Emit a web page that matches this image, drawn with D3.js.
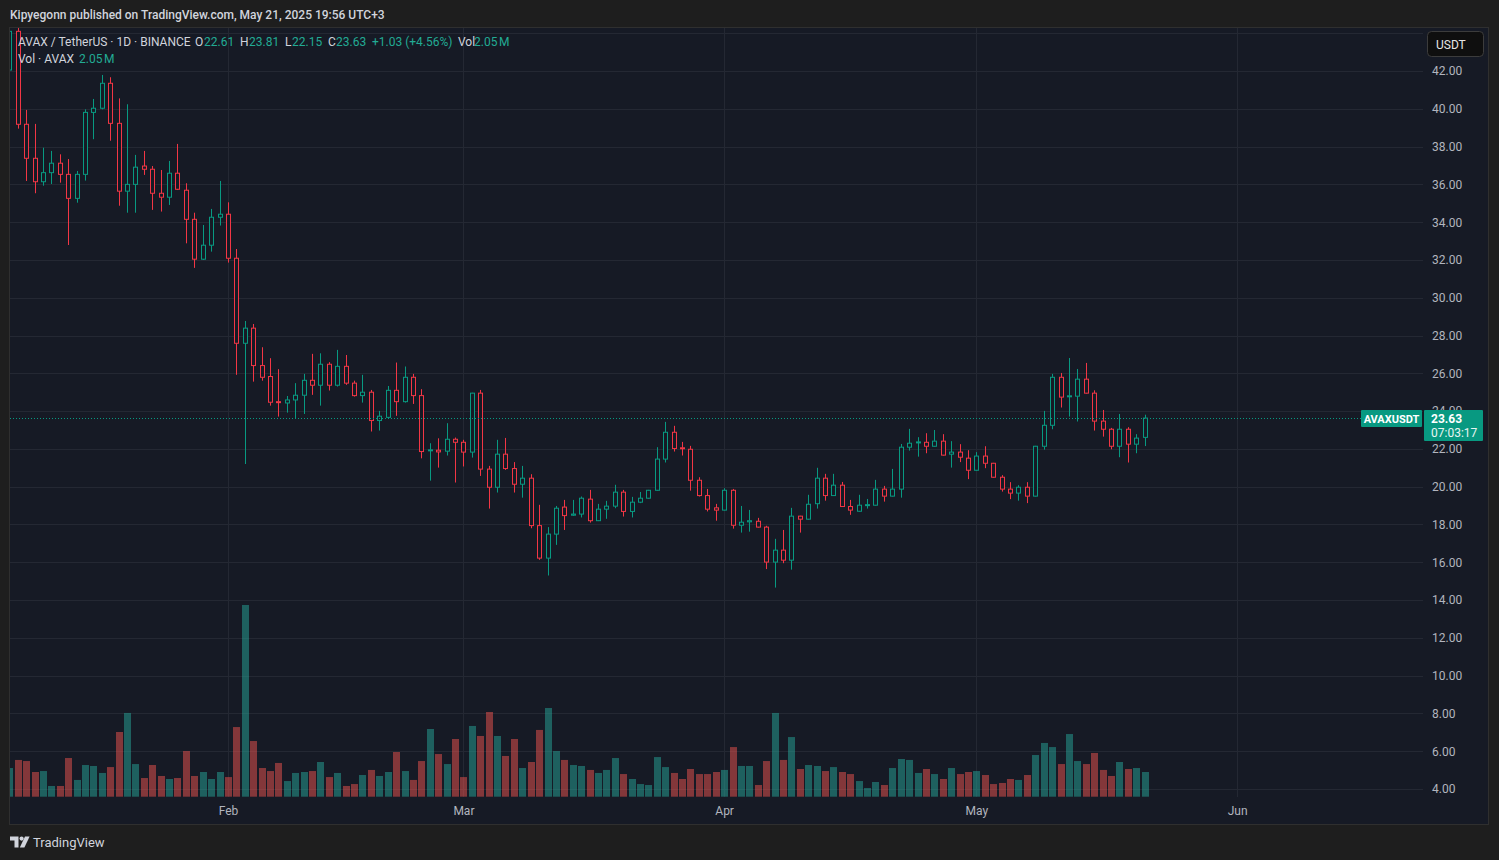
<!DOCTYPE html>
<html>
<head>
<meta charset="utf-8">
<script src="https://cdn.jsdelivr.net/npm/d3@7"></script>
<style>
	html, body { margin: 0; padding: 0; background: #1e1e1e; }
	svg { display: block; font-family: Roboto, "Noto Sans", sans-serif; }
</style>
</head>
<body>
<svg id="chart" width="1499" height="860"></svg>
<script>
(function() {
	"use strict";

	// daily candles, AVAX / USDT
	var days = [
		"2025-01-06","2025-01-07","2025-01-08","2025-01-09","2025-01-10","2025-01-11","2025-01-12","2025-01-13",
		"2025-01-14","2025-01-15","2025-01-16","2025-01-17","2025-01-18","2025-01-19","2025-01-20","2025-01-21",
		"2025-01-22","2025-01-23","2025-01-24","2025-01-25","2025-01-26","2025-01-27","2025-01-28","2025-01-29",
		"2025-01-30","2025-01-31","2025-02-01","2025-02-02","2025-02-03","2025-02-04","2025-02-05","2025-02-06",
		"2025-02-07","2025-02-08","2025-02-09","2025-02-10","2025-02-11","2025-02-12","2025-02-13","2025-02-14",
		"2025-02-15","2025-02-16","2025-02-17","2025-02-18","2025-02-19","2025-02-20","2025-02-21","2025-02-22",
		"2025-02-23","2025-02-24","2025-02-25","2025-02-26","2025-02-27","2025-02-28","2025-03-01","2025-03-02",
		"2025-03-03","2025-03-04","2025-03-05","2025-03-06","2025-03-07","2025-03-08","2025-03-09","2025-03-10",
		"2025-03-11","2025-03-12","2025-03-13","2025-03-14","2025-03-15","2025-03-16","2025-03-17","2025-03-18",
		"2025-03-19","2025-03-20","2025-03-21","2025-03-22","2025-03-23","2025-03-24","2025-03-25","2025-03-26",
		"2025-03-27","2025-03-28","2025-03-29","2025-03-30","2025-03-31","2025-04-01","2025-04-02","2025-04-03",
		"2025-04-04","2025-04-05","2025-04-06","2025-04-07","2025-04-08","2025-04-09","2025-04-10","2025-04-11",
		"2025-04-12","2025-04-13","2025-04-14","2025-04-15","2025-04-16","2025-04-17","2025-04-18","2025-04-19",
		"2025-04-20","2025-04-21","2025-04-22","2025-04-23","2025-04-24","2025-04-25","2025-04-26","2025-04-27",
		"2025-04-28","2025-04-29","2025-04-30","2025-05-01","2025-05-02","2025-05-03","2025-05-04","2025-05-05",
		"2025-05-06","2025-05-07","2025-05-08","2025-05-09","2025-05-10","2025-05-11","2025-05-12","2025-05-13",
		"2025-05-14","2025-05-15","2025-05-16","2025-05-17","2025-05-18","2025-05-19","2025-05-20","2025-05-21"
	];

	var opens = [
		42.05,44.10,39.18,37.38,36.14,36.62,37.12,36.53,35.26,36.53,39.81,40.03,41.35,39.23,35.64,36.00,
		36.97,36.80,35.53,35.32,36.59,35.69,34.15,32.04,32.78,34.26,34.42,32.09,27.59,28.39,26.41,25.83,
		24.50,24.43,24.59,24.84,25.63,25.37,26.48,25.37,26.37,25.48,24.82,25.00,23.50,23.67,25.10,24.50,
		25.79,24.82,21.90,21.93,21.88,22.51,22.35,21.83,24.95,20.93,19.97,21.72,20.96,20.13,20.45,17.94,
		16.22,17.49,18.92,18.49,18.55,19.34,18.20,18.81,18.97,19.71,18.69,19.18,19.39,19.81,21.46,22.88,
		22.06,21.98,20.34,19.53,18.88,18.76,19.81,17.96,18.14,18.17,17.86,16.01,16.64,16.11,18.44,18.28,
		19.10,20.45,19.53,20.08,18.95,18.70,19.00,19.02,19.87,19.50,19.87,22.09,22.33,22.35,22.14,22.41,
		21.72,21.83,21.51,20.87,21.62,21.24,20.50,19.87,19.66,19.97,19.50,22.14,23.25,25.79,24.77,24.79,
		25.69,24.95,23.47,23.04,22.14,23.04,22.25,22.61
	];

	var highs = [
		44.60,44.60,39.94,39.20,37.94,37.77,37.59,37.34,36.71,39.97,40.52,41.79,41.67,40.55,40.24,37.56,
		37.77,36.97,36.76,37.24,38.14,36.06,34.50,33.85,34.70,36.18,35.05,32.58,28.77,28.61,27.38,26.80,
		26.22,24.80,25.48,25.97,27.03,27.06,26.59,27.24,26.97,25.61,25.92,25.12,24.01,25.33,26.57,26.36,
		25.97,25.16,22.30,22.56,23.36,22.60,22.48,24.97,25.12,21.10,22.48,22.58,21.30,21.10,20.66,19.04,
		17.86,18.98,19.30,19.30,19.48,19.83,19.09,19.25,20.10,19.83,19.46,19.72,19.83,22.09,23.43,23.22,
		22.37,22.16,20.50,19.88,19.09,19.92,19.88,18.98,18.77,18.35,17.93,17.24,17.71,18.88,18.46,19.57,
		21.00,20.68,20.68,20.25,19.30,19.57,19.35,20.36,20.04,20.94,22.26,23.06,22.62,22.83,23.00,22.78,
		22.41,22.25,21.93,21.83,22.14,21.26,20.61,20.24,20.08,20.24,22.16,24.01,25.97,26.02,26.81,26.23,
		26.55,25.10,24.06,23.11,23.85,23.15,22.78,23.81
	];

	var lows = [
		41.50,38.95,36.18,35.53,35.93,36.02,36.09,32.79,35.03,36.20,38.39,39.97,38.31,34.87,34.50,34.50,
		36.50,34.65,34.56,34.91,35.70,32.88,31.58,32.00,32.44,33.82,31.86,25.92,21.20,25.56,25.61,24.29,
		23.71,23.92,23.62,23.85,24.86,24.29,25.09,25.30,25.39,24.77,24.45,22.92,22.97,23.62,23.75,24.45,
		24.38,21.50,20.32,21.01,21.65,20.22,21.07,21.54,20.57,18.84,19.69,20.89,19.69,19.42,17.80,16.13,
		15.30,16.92,17.71,18.45,18.37,18.10,18.18,18.30,18.86,18.42,18.37,19.13,19.37,19.79,21.28,21.86,
		21.65,19.79,19.48,18.69,18.20,18.74,17.78,17.57,17.62,17.84,15.64,14.66,15.95,15.61,17.57,18.26,
		18.84,19.26,19.51,18.93,18.51,18.68,18.84,19.00,19.21,19.48,19.42,21.91,21.59,21.77,22.12,21.65,
		21.01,21.30,20.40,20.85,20.98,20.48,19.74,19.34,19.26,19.13,19.48,21.96,23.04,24.19,23.71,23.45,
		24.93,22.97,22.65,21.98,21.56,21.28,21.77,22.15
	];

	var closes = [
		44.10,39.18,37.38,36.14,36.62,37.12,36.53,35.26,36.53,39.81,40.03,41.35,39.23,35.64,36.00,36.91,
		36.80,35.53,35.32,36.59,35.74,34.15,32.04,32.78,34.26,34.42,32.09,27.59,28.39,26.41,25.79,24.47,
		24.45,24.59,24.84,25.63,25.37,26.48,25.37,26.37,25.48,24.82,25.00,23.50,23.73,25.10,24.50,25.79,
		24.82,21.86,21.95,21.84,22.51,22.35,21.83,24.95,20.93,19.97,21.72,20.96,20.13,20.45,17.94,16.22,
		17.49,18.86,18.47,18.55,19.39,18.20,18.81,18.97,19.71,18.69,19.18,19.39,19.81,21.46,22.88,22.02,
		22.02,20.34,19.53,18.81,18.76,19.81,17.96,18.12,18.20,17.86,16.01,16.64,16.11,18.44,18.28,19.07,
		20.45,19.53,20.08,18.95,18.76,19.02,19.05,19.87,19.50,19.87,22.09,22.30,22.37,22.14,22.41,21.67,
		21.83,21.56,20.87,21.62,21.24,20.50,19.87,19.66,19.97,19.50,22.14,23.25,25.79,24.74,24.81,25.69,
		24.95,23.47,23.04,22.14,23.04,22.25,22.57,23.63
	];

	// volume, millions of AVAX
	var volumes = [
		2.38,3.05,2.96,2.05,2.13,0.89,0.89,3.21,1.39,2.63,2.55,1.97,2.46,5.37,6.95,2.71,
		1.55,2.63,1.72,1.47,1.55,3.79,1.72,2.05,1.47,2.05,1.63,5.78,15.91,4.62,2.38,2.13,
		2.80,1.30,1.97,2.05,2.13,2.88,1.63,1.97,0.89,1.05,1.80,2.22,1.72,2.05,3.71,2.13,
		1.39,2.96,5.62,3.54,2.71,4.79,1.63,5.87,5.04,7.03,5.04,3.38,4.79,2.38,2.88,5.54,
		7.36,3.79,3.05,2.63,2.55,2.22,1.97,2.22,3.21,1.88,1.47,1.05,0.97,3.29,2.46,1.97,
		1.47,2.30,1.88,1.88,2.05,2.22,4.12,2.55,2.55,0.97,2.96,6.95,3.05,4.95,2.30,2.63,
		2.55,2.13,2.46,2.05,1.88,1.30,0.72,1.22,0.97,2.38,3.13,3.05,1.97,2.30,1.88,1.47,
		2.38,1.88,2.05,2.13,1.80,1.05,1.14,1.47,1.39,1.80,3.46,4.46,4.12,2.71,5.20,2.96,
		2.71,3.63,2.22,1.72,2.88,2.30,2.38,2.05
	];

	var priceTicks = [4,6,8,10,12,14,16,18,20,22,24,26,28,30,32,34,36,38,40,42];
	var priceGrid = [4,6,8,10,12,14,16,18,20,22,24,26,28,30,32,34,36,38,40,42,44];
	var monthTicks = ["2025-02-01","2025-03-01","2025-04-01","2025-05-01","2025-06-01"];
	var lastPrice = 23.63;

	var UP = "#089981", DOWN = "#f23645";
	var UP_VOL = "rgba(38,166,154,0.5)", DOWN_VOL = "rgba(239,83,80,0.5)";
	var BG = "#161a25";

	var parse = d3.utcParse("%Y-%m-%d");
	var data = days.map(function(d, i) {
		return { date: parse(d), o: opens[i], h: highs[i], l: lows[i], c: closes[i], v: volumes[i] };
	});

	var plot = { left: 10, top: 28, right: 1423, bottom: 797 };

	var x = d3.scaleUtc()
		.domain([parse("2025-01-07"), parse("2025-05-21")])
		.range([17.7, 1144.6]);
	var y = d3.scaleLinear().domain([4, 42]).range([789, 71]);
	var yVol = d3.scaleLinear().domain([0, 16]).range([796.7, 796.7 - 16 * 12.05]);

	var svg = d3.select("#chart");

	// frame
	svg.append("rect").attr("width", 1499).attr("height", 860).attr("fill", "#1e1e1e");
	svg.append("rect")
		.attr("x", 9.5).attr("y", 27.5).attr("width", 1479).attr("height", 797)
		.attr("fill", BG).attr("stroke", "#2f2f2f").attr("stroke-width", 1);

	svg.append("defs").append("clipPath").attr("id", "plotClip")
		.append("rect")
		.attr("x", plot.left).attr("y", plot.top)
		.attr("width", plot.right - plot.left).attr("height", plot.bottom - plot.top);

	// grid
	var grid = svg.append("g").attr("clip-path", "url(#plotClip)");
	grid.selectAll(".hgrid").data(priceGrid).enter().append("line")
		.attr("x1", plot.left).attr("x2", plot.right)
		.attr("y1", function(d) { return Math.round(y(d)) + 0.5; })
		.attr("y2", function(d) { return Math.round(y(d)) + 0.5; })
		.attr("stroke", "#242833").attr("stroke-width", 1);
	grid.selectAll(".vgrid").data(monthTicks).enter().append("line")
		.attr("x1", function(d) { return Math.round(x(parse(d))) + 0.5; })
		.attr("x2", function(d) { return Math.round(x(parse(d))) + 0.5; })
		.attr("y1", plot.top).attr("y2", plot.bottom)
		.attr("stroke", "#242833").attr("stroke-width", 1);

	var marks = svg.append("g").attr("clip-path", "url(#plotClip)");

	// volume
	marks.selectAll(".vol").data(data).enter().append("rect")
		.attr("x", function(d) { return Math.round(x(d.date)) - 3; })
		.attr("width", 7)
		.attr("y", function(d) { return yVol(d.v); })
		.attr("height", function(d) { return yVol(0) - yVol(d.v); })
		.attr("fill", function(d) { return d.c >= d.o ? UP_VOL : DOWN_VOL; });

	// candles: hollow bodies
	var candle = marks.selectAll(".candle").data(data).enter().append("g");
	candle.append("line")
		.attr("x1", function(d) { return Math.round(x(d.date)) + 0.5; })
		.attr("x2", function(d) { return Math.round(x(d.date)) + 0.5; })
		.attr("y1", function(d) { return y(d.h); })
		.attr("y2", function(d) { return y(d.l); })
		.attr("stroke", function(d) { return d.c >= d.o ? UP : DOWN; })
		.attr("stroke-width", 1);
	candle.append("rect")
		.attr("x", function(d) { return Math.round(x(d.date)) - 1.5; })
		.attr("width", 4)
		.attr("y", function(d) { return y(Math.max(d.o, d.c)); })
		.attr("height", function(d) { return Math.max(1, Math.abs(y(d.o) - y(d.c))); })
		.attr("fill", BG)
		.attr("stroke", function(d) { return d.c >= d.o ? UP : DOWN; })
		.attr("stroke-width", 1);

	// last price line
	svg.append("line")
		.attr("x1", plot.left).attr("x2", 1361)
		.attr("y1", Math.round(y(lastPrice)) + 0.5).attr("y2", Math.round(y(lastPrice)) + 0.5)
		.attr("stroke", UP).attr("stroke-width", 1).attr("stroke-dasharray", "1,2");

	// price axis
	var yAxis = d3.axisRight(y).tickValues(priceTicks)
		.tickFormat(d3.format(".2f")).tickSize(0).tickPadding(9);
	var gy = svg.append("g").attr("transform", "translate(" + plot.right + ",0)").call(yAxis);
	gy.select(".domain").remove();
	gy.selectAll("text").attr("fill", "#b2b5be").attr("font-size", 12)
		.attr("font-family", "Roboto, sans-serif");

	// time axis
	var xAxis = d3.axisBottom(x).tickValues(monthTicks.map(parse))
		.tickFormat(d3.utcFormat("%b")).tickSize(0).tickPadding(9);
	var gx = svg.append("g").attr("transform", "translate(0," + plot.bottom + ")").call(xAxis);
	gx.select(".domain").remove();
	gx.selectAll("text").attr("fill", "#b2b5be").attr("font-size", 12)
		.attr("font-family", "Roboto, sans-serif");

	// last price labels
	var ly = Math.round(y(lastPrice));
	svg.append("rect").attr("x", 1361).attr("y", ly - 8).attr("width", 61).attr("height", 17)
		.attr("fill", UP).attr("rx", 1);
	svg.append("text").attr("x", 1391.5).attr("y", ly + 4.5).attr("text-anchor", "middle")
		.attr("fill", "#ffffff").attr("font-size", 11).attr("font-weight", 700)
		.text("AVAXUSDT");
	svg.append("rect").attr("x", 1424).attr("y", ly - 8).attr("width", 59).attr("height", 31)
		.attr("fill", UP).attr("rx", 1);
	svg.append("text").attr("x", 1431).attr("y", ly + 4.5)
		.attr("fill", "#ffffff").attr("font-size", 12).attr("font-weight", 700)
		.text(d3.format(".2f")(lastPrice));
	svg.append("text").attr("x", 1431).attr("y", ly + 19)
		.attr("fill", "#e8f5f2").attr("font-size", 12)
		.text("07:03:17");

	// currency button
	svg.append("rect").attr("x", 1427.5).attr("y", 31.5).attr("width", 56).attr("height", 25)
		.attr("rx", 4).attr("fill", "#0f0f0f").attr("stroke", "#3c3c3c");
	svg.append("text").attr("x", 1436).attr("y", 48.5)
		.attr("fill", "#e6e6e6").attr("font-size", 12).text("USDT");

	// header
	svg.append("text").attr("x", 10).attr("y", 19)
		.attr("fill", "#d1d4dc").attr("font-size", 12).attr("font-weight", 500)
		.text("Kipyegonn published on TradingView.com, May 21, 2025 19:56 UTC+3");

	// legend
	var TXT = "#d1d4dc", VAL = "#22ab94";
	var legend = svg.append("g").attr("font-size", 12);
	var row1 = [
		{ x: 18, t: "AVAX / TetherUS · 1D · BINANCE", c: TXT },
		{ x: 195, t: "O", c: TXT }, { x: 204, t: "22.61", c: VAL },
		{ x: 240, t: "H", c: TXT }, { x: 249, t: "23.81", c: VAL },
		{ x: 285, t: "L", c: TXT }, { x: 292, t: "22.15", c: VAL },
		{ x: 328, t: "C", c: TXT }, { x: 336, t: "23.63", c: VAL },
		{ x: 372, t: "+1.03 (+4.56%)", c: VAL },
		{ x: 458, t: "Vol", c: TXT }, { x: 474, t: "2.05\u202FM", c: VAL }
	];
	legend.selectAll(".r1").data(row1).enter().append("text")
		.attr("x", function(d) { return d.x; }).attr("y", 46)
		.attr("fill", function(d) { return d.c; })
		.text(function(d) { return d.t; });
	legend.append("text").attr("x", 18).attr("y", 63).attr("fill", TXT).text("Vol · AVAX");
	legend.append("text").attr("x", 79).attr("y", 63).attr("fill", VAL).text("2.05\u202FM");

	// footer logo
	var logo = svg.append("g").attr("fill", "#d1d4dc");
	logo.append("path").attr("d", "M10 836.5 h8.5 v11 h-4 v-7 h-4.5 z");
	logo.append("circle").attr("cx", 21.6).attr("cy", 838.6).attr("r", 2.1);
	logo.append("path").attr("d", "M25 836.5 h4.6 l-5.2 11 h-4.6 z");
	svg.append("text").attr("x", 33).attr("y", 847)
		.attr("fill", "#d1d4dc").attr("font-size", 13).text("TradingView");

})();
</script>
</body>
</html>
